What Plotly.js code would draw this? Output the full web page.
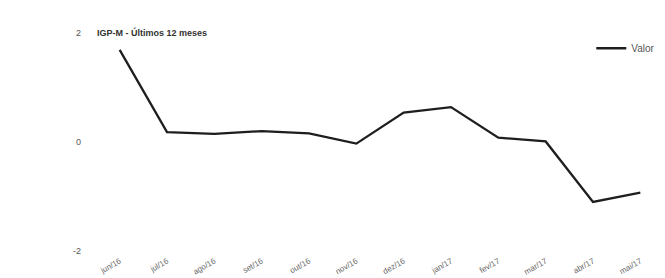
<!DOCTYPE html>
<html>
<head>
<meta charset="utf-8">
<script src="https://cdn.plot.ly/plotly-3.0.1.min.js"></script>
<style>html,body{margin:0;padding:0;background:#fff;}#chart{width:665px;height:278px;}</style>
</head>
<body>
<div id="chart"></div>
<script>
var months = ["jun/16","jul/16","ago/16","set/16","out/16","nov/16","dez/16","jan/17","fev/17","mar/17","abr/17","mai/17"];
var valores = [1.69, 0.18, 0.15, 0.20, 0.16, -0.03, 0.54, 0.64, 0.08, 0.01, -1.10, -0.93];
var yTicks = [-2, 0, 2];

var trace = {
  x: months, y: valores, type: "scatter", mode: "lines", name: "Valor",
  line: {color: "#1e1e1e", width: 2.3}
};
var layout = {
  width: 665, height: 278,
  margin: {l: 96, r: 1, t: 33, b: 27, pad: 0},
  paper_bgcolor: "#fff", plot_bgcolor: "#fff",
  font: {family: "Liberation Sans, Arial, sans-serif", color: "#555", size: 9},
  title: {text: "<b>IGP-M - Últimos 12 meses</b>", x: 97/665, xanchor: "left", xref: "container",
          y: 1 - 33/278, yanchor: "middle", yref: "container",
          font: {size: 9, color: "#333", family: "Liberation Sans, Arial, sans-serif"}},
  xaxis: {type: "category", range: [-0.5, 11.5], showgrid: false, zeroline: false, showline: false,
          tickangle: -30, tickfont: {size: 8, color: "#666"}, ticks: "", ticklabelstandoff: 3},
  yaxis: {range: [-2, 2], tickvals: yTicks, ticktext: yTicks.map(String), showgrid: false,
          zeroline: false, showline: false, ticks: "", tickfont: {size: 9, color: "#555"}, ticklabelstandoff: 14},
  showlegend: true,
  legend: {x: 0.872, y: 0.93, xanchor: "left", yanchor: "middle", bgcolor: "rgba(0,0,0,0)",
           font: {size: 10, color: "#555"}}
};
Plotly.newPlot("chart", [trace], layout, {displayModeBar: false, staticPlot: true});
</script>
</body>
</html>
